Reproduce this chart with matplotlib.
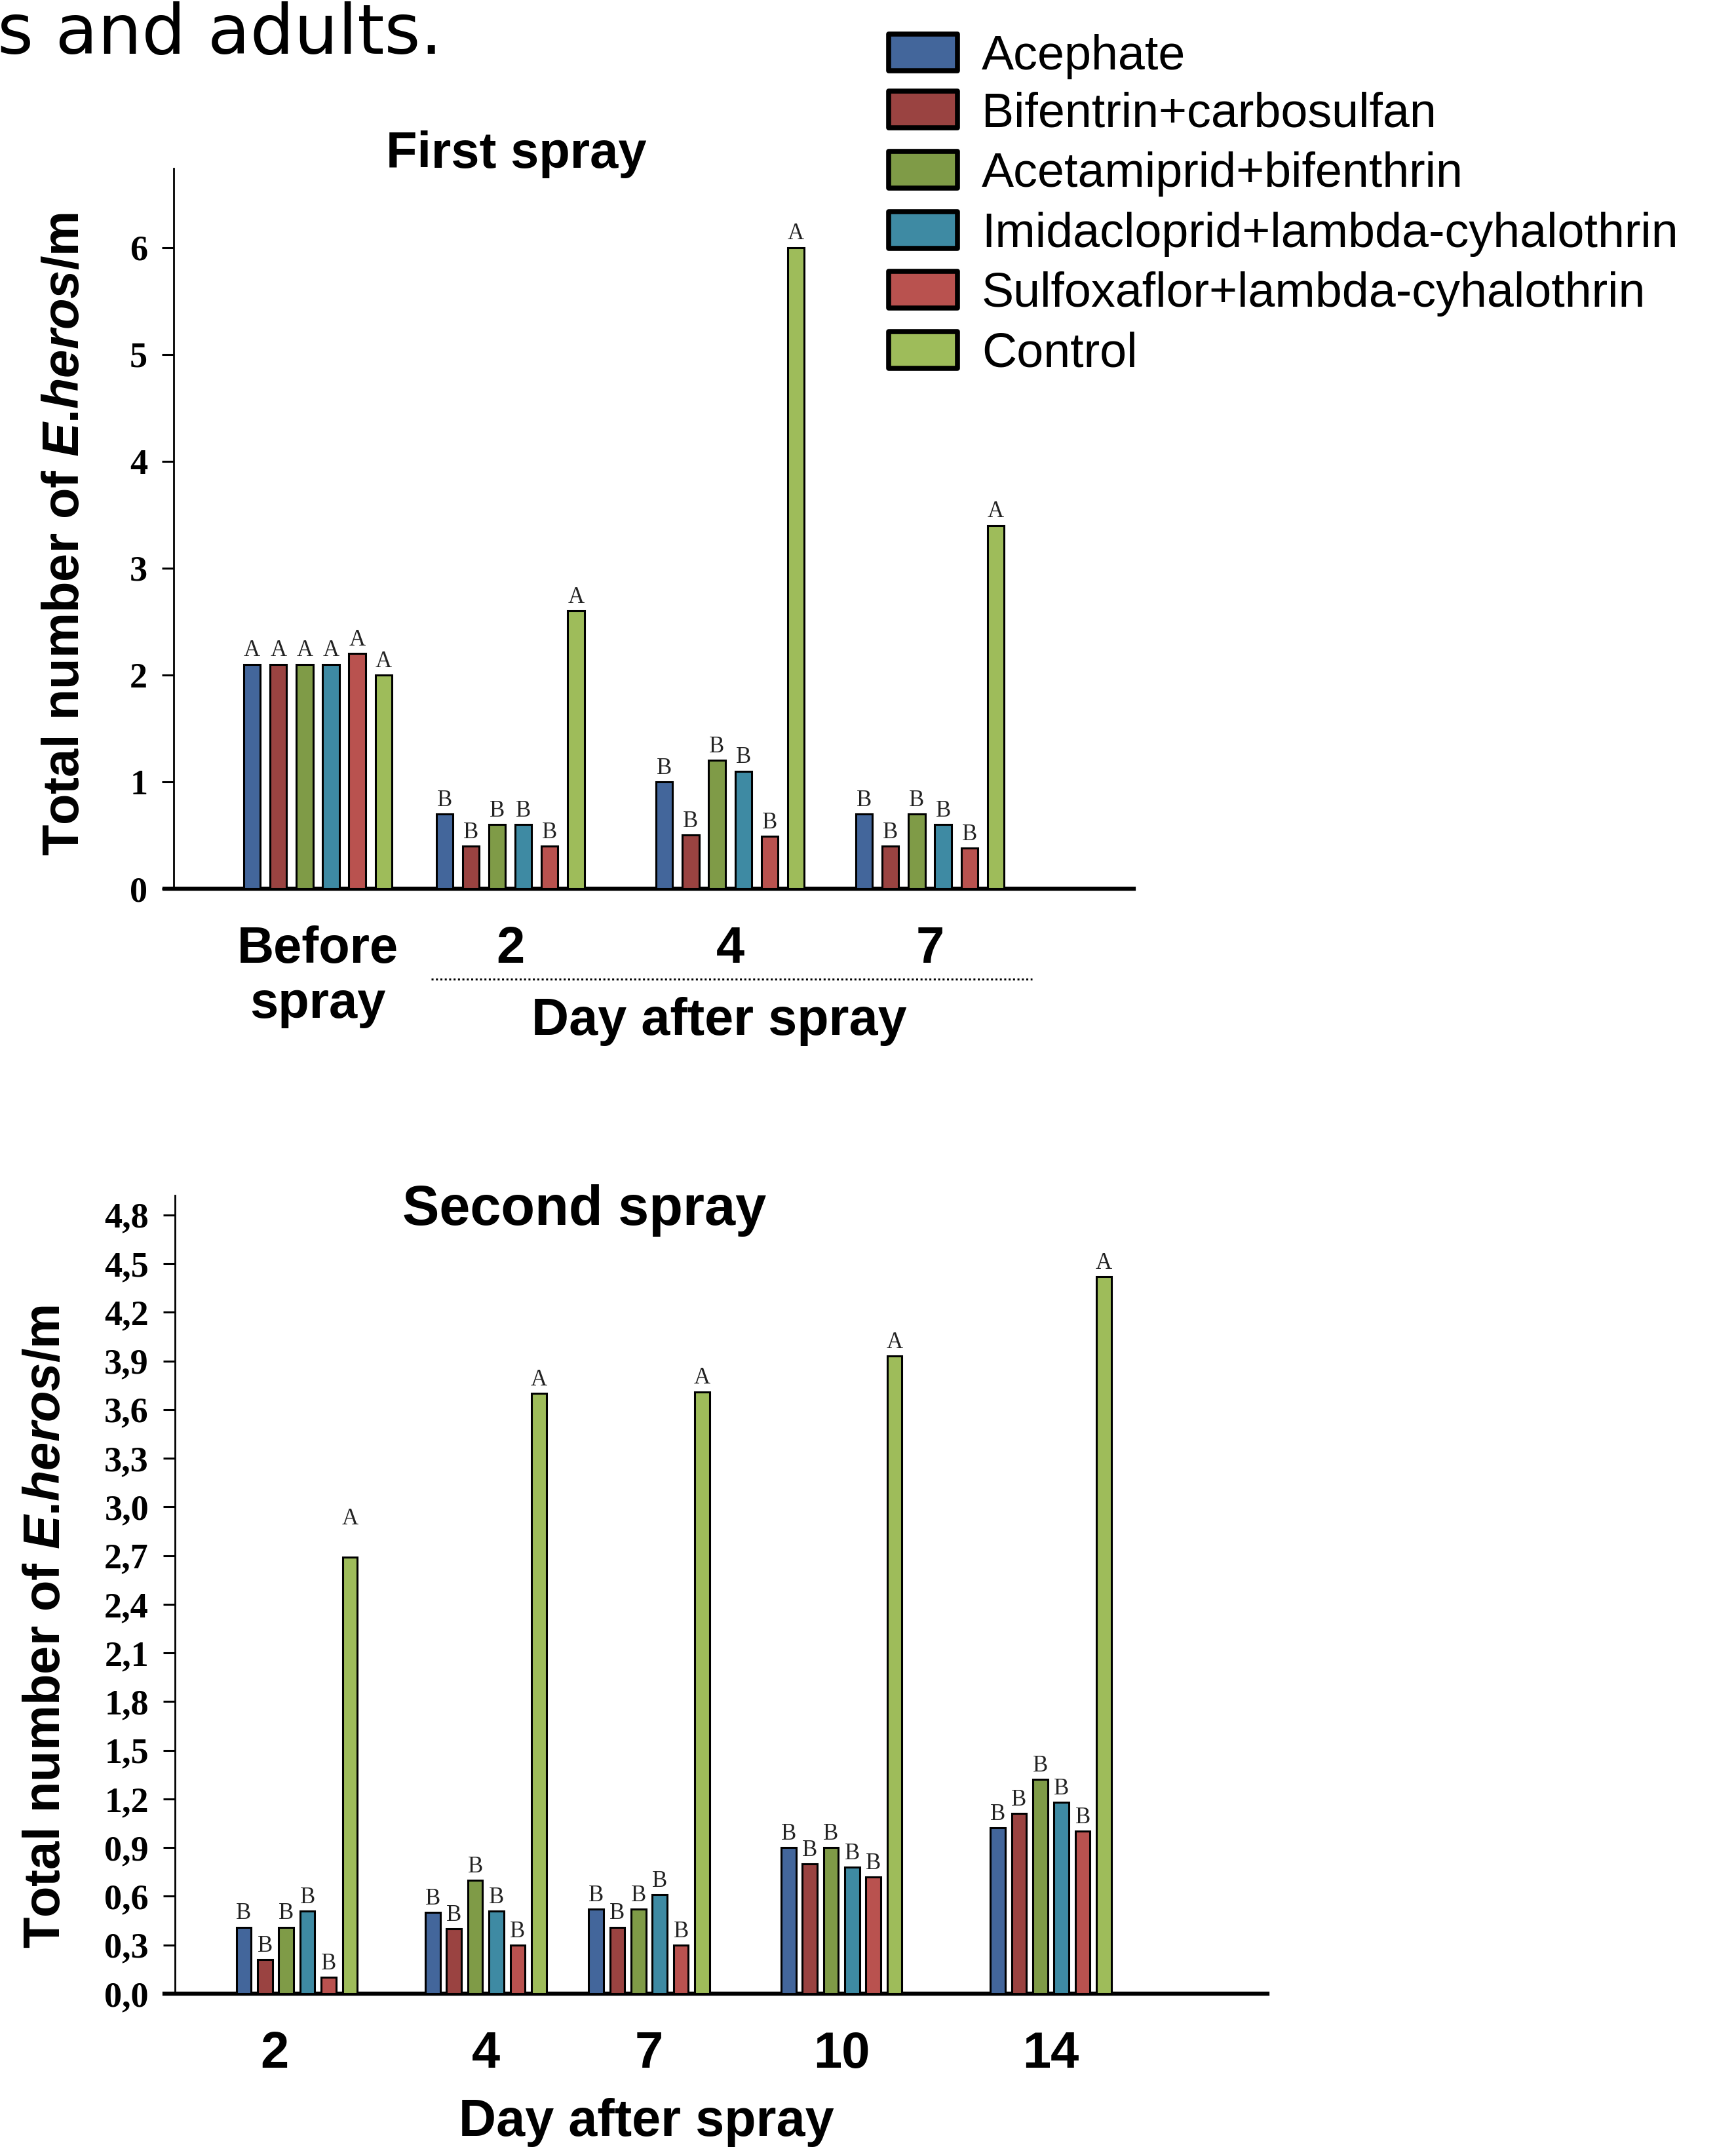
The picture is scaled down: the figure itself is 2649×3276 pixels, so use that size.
import numpy as np
import matplotlib
matplotlib.use('Agg')
import matplotlib.pyplot as plt
from matplotlib.patches import Rectangle
from matplotlib.lines import Line2D

plt.rcParams['mathtext.fontset'] = 'custom'
plt.rcParams['mathtext.rm'] = 'Liberation Sans:bold'
plt.rcParams['mathtext.it'] = 'Liberation Sans:bold:italic'

# treatments and colours
treatments = ['Acephate', 'Bifentrin+carbosulfan', 'Acetamiprid+bifenthrin',
              'Imidacloprid+lambda-cyhalothrin', 'Sulfoxaflor+lambda-cyhalothrin', 'Control']
colors = ['#43669B', '#9A4341', '#7F9B47', '#3E8AA3', '#B9524F', '#9EBC5A']

# first spray
first_groups = ['Before\nspray', '2', '4', '7']
first_vals = [
    [2.1, 2.1, 2.1, 2.1, 2.2, 2.0],
    [0.7, 0.4, 0.6, 0.6, 0.4, 2.6],
    [1.0, 0.5, 1.2, 1.1, 0.49, 6.0],
    [0.7, 0.4, 0.7, 0.6, 0.38, 3.4],
]
first_letters = [
    ['A', 'A', 'A', 'A', 'A', 'A'],
    ['B', 'B', 'B', 'B', 'B', 'A'],
    ['B', 'B', 'B', 'B', 'B', 'A'],
    ['B', 'B', 'B', 'B', 'B', 'A'],
]

# second spray
second_groups = ['2', '4', '7', '10', '14']
second_vals = [
    [0.41, 0.21, 0.41, 0.51, 0.10, 2.69],
    [0.50, 0.40, 0.70, 0.51, 0.30, 3.70],
    [0.52, 0.41, 0.52, 0.61, 0.30, 3.71],
    [0.90, 0.80, 0.90, 0.78, 0.72, 3.93],
    [1.02, 1.11, 1.32, 1.18, 1.00, 4.42],
]
second_letters = [
    ['B', 'B', 'B', 'B', 'B', 'A'],
    ['B', 'B', 'B', 'B', 'B', 'A'],
    ['B', 'B', 'B', 'B', 'B', 'A'],
    ['B', 'B', 'B', 'B', 'B', 'A'],
    ['B', 'B', 'B', 'B', 'B', 'A'],
]

# layout (bar slot units)
first_centers = [5.47, 12.79, 21.15, 28.75]
second_centers = [5.74, 14.65, 22.35, 31.42, 41.29]
second_tickpos = [4.7, 14.65, 22.35, 31.42, 41.29]
offsets = np.arange(6) - 2.5

fig = plt.figure(figsize=(26.49, 32.76), dpi=100)
W, H = 2649, 3276


def draw(ax, centers, vals, letters, width, extra=None):
    vals = np.array(vals)
    for j in range(len(treatments)):
        xs = np.array(centers) + offsets[j]
        ax.bar(xs, vals[:, j], width=width, color=colors[j], edgecolor='black',
               linewidth=2.2, zorder=3)
        for i, x in enumerate(xs):
            dy = 3
            if extra and (i, j) in extra:
                dy = extra[(i, j)]
            ax.annotate(letters[i][j], (x, vals[i, j]), xytext=(0, dy),
                        textcoords='offset points', ha='center', va='bottom',
                        fontsize=25, family='Liberation Serif', color='#222222')
    for s in ['top', 'right']:
        ax.spines[s].set_visible(False)
    ax.spines['left'].set_position(('data', 0))
    ax.spines['left'].set_linewidth(2)
    ax.spines['bottom'].set_linewidth(4.5)
    ax.tick_params(axis='y', length=13, width=2.2, pad=16)
    ax.tick_params(axis='x', length=0)
    for t in ax.get_yticklabels():
        t.set_family('Liberation Serif')
        t.set_fontweight('bold')
        t.set_fontsize(39)


# ---- first spray
ax1 = fig.add_axes([251 / W, 1 - 1356 / H, (1730 - 251) / W, (1356 - 257) / H])
ax1.set_xlim(-0.36, 36.5)
ax1.set_ylim(0, 6.74)
ax1.set_yticks(range(0, 7))
draw(ax1, first_centers, first_vals, first_letters, 0.63)
ax1.set_xticks(first_centers)
ax1.set_xticklabels(first_groups, fontsize=56, fontweight='bold',
                    family='Liberation Sans', linespacing=1.2)
ax1.tick_params(axis='x', pad=40)

# ---- second spray
ax2 = fig.add_axes([251 / W, 1 - 3042 / H, (1934 - 251) / W, (3042 - 1824) / H])
ax2.set_xlim(-0.5, 51.5)
ax2.set_ylim(0, 4.92)
yt = np.round(np.arange(0, 4.81, 0.3), 1)
ax2.set_yticks(yt)
ax2.set_yticklabels([f'{v:.1f}'.replace('.', ',') for v in yt])
draw(ax2, second_centers, second_vals, second_letters, 0.7, extra={(0, 5): 30})
ax2.set_xticks(second_tickpos)
ax2.set_xticklabels(second_groups, fontsize=56, fontweight='bold', family='Liberation Sans')
ax2.tick_params(axis='x', pad=40)

# ---- texts
ylab = r'Total number of $\mathit{E}$.$\mathit{heros}$/m'
fig.text(100 / W, 1 - 815 / H, ylab, rotation=90, ha='center', va='center',
         fontsize=56, fontweight='bold', family='Liberation Sans')
fig.text(71 / W, 1 - 2482 / H, ylab, rotation=90, ha='center', va='center',
         fontsize=56, fontweight='bold', family='Liberation Sans')
fig.text(788 / W, 1 - 236 / H, 'First spray', ha='center', va='center',
         fontsize=56, fontweight='bold', family='Liberation Sans')
fig.text(892 / W, 1 - 1847 / H, 'Second spray', ha='center', va='center',
         fontsize=61, fontweight='bold', family='Liberation Sans')
fig.text(1097 / W, 1 - 1558 / H, 'Day after spray', ha='center', va='center',
         fontsize=57, fontweight='bold', family='Liberation Sans')
fig.text(986 / W, 1 - 3238 / H, 'Day after spray', ha='center', va='center',
         fontsize=57, fontweight='bold', family='Liberation Sans')
fig.text(-4 / W, 1 - 82 / H, 's and adults.', ha='left', va='baseline',
         fontsize=76, family='DejaVu Sans')

fig.add_artist(Line2D([658 / W, 1575 / W], [1 - 1494 / H, 1 - 1494 / H],
                      color='black', linewidth=2.2, linestyle=(0, (1, 1.2))))

# ---- legend
rows = [80, 167, 259, 351, 442, 534]
for lab, col, yc in zip(treatments, colors, rows):
    fig.add_artist(Rectangle((1356 / W, 1 - (yc + 28) / H), 105 / W, 56 / H,
                             facecolor=col, edgecolor='black', linewidth=5.5,
                             joinstyle='round', transform=fig.transFigure))
    fig.text(1498 / W, 1 - (yc + 26) / H, lab, ha='left', va='baseline',
             fontsize=53, family='Liberation Sans')

fig.savefig('out.png', dpi=100)
